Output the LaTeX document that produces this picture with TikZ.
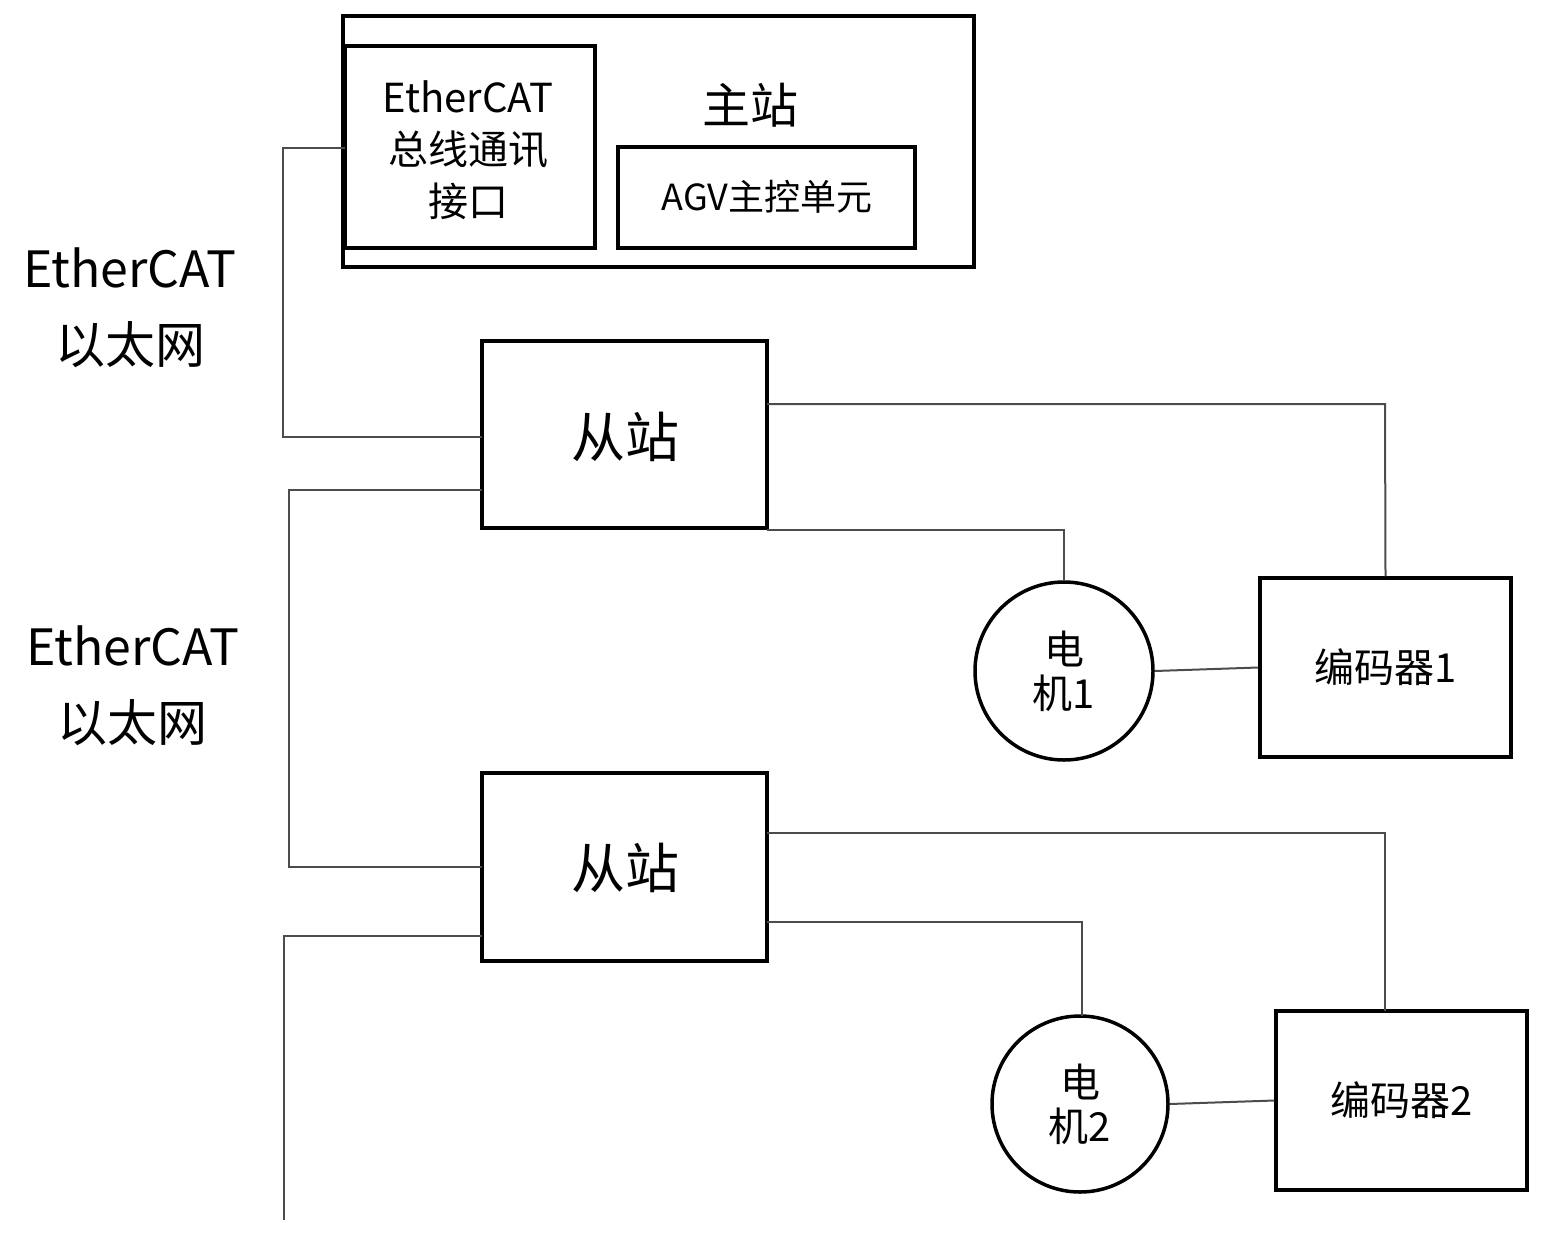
\documentclass[tikz,border=0pt]{standalone}
\usepackage{fontspec}
\setmainfont{Noto Sans CJK SC}
\begin{document}
\begin{tikzpicture}[x=1pt,y=-1pt,
 box/.style={draw,line width=3.5pt},
 wire/.style={draw=black!70,line width=2pt},
 txt/.style={align=center,inner sep=0pt}]
\useasboundingbox (0,0) rectangle (1544,1237);
\draw[box] (343,16) rectangle (974,267);
\draw[box] (345,46) rectangle (595,248);
\coordinate (ifl) at (345,148);
\node[txt,font=\fontsize{40}{52}\selectfont] (if) at (468,150) {EtherCAT\\总线通讯\\接口};
\node[txt,font=\fontsize{48}{50}\selectfont] (ms) at (750,105) {主站};
\draw[box] (618,147) rectangle (915,248);
\node[txt,font=\fontsize{36}{38}\selectfont] (agv) at (767,197) {AGV主控单元};
\node[txt,font=\fontsize{50}{76}\selectfont] (l1) at (130,308) {EtherCAT\\以太网};
\node[txt,font=\fontsize{50}{76}\selectfont] (l2) at (133,686) {EtherCAT\\以太网};
\draw[box] (482,341) rectangle (767,528);
\node[txt,font=\fontsize{54}{56}\selectfont] (s1) at (625,437) {从站};
\draw[box] (482,773) rectangle (767,961);
\node[txt,font=\fontsize{54}{56}\selectfont] (s2) at (625,868) {从站};
\node[draw,circle,line width=3.5pt,minimum size=178pt,inner sep=0pt,align=center,font=\fontsize{40}{44}\selectfont] (m1) at (1064,671) {电\\机1};
\node[draw,circle,line width=3.5pt,minimum size=176pt,inner sep=0pt,align=center,font=\fontsize{40}{44}\selectfont] (m2) at (1080,1104) {电\\机2};
\node[draw,line width=3.5pt,minimum width=251pt,minimum height=179pt,font=\fontsize{40}{44}\selectfont] (e1) at (1385.5,667.5) {编码器1};
\node[draw,line width=3.5pt,minimum width=251pt,minimum height=179pt,font=\fontsize{40}{44}\selectfont] (e2) at (1401.5,1100.5) {编码器2};
\coordinate (end) at (284,1220);
\draw[wire] (ifl) -- (283,148) -- (283,437) -- (482,437);
\draw[wire] (482,490) -- (289,490) -- (289,867) -- (482,867);
\draw[wire] (482,936) -- (284,936) -- (end);
\draw[wire] (767,404) -- (1385,404) -- (e1.north);
\draw[wire] (767,530) -- (1064,530) -- (m1.north);
\draw[wire] (m1.east) -- (e1.west);
\draw[wire] (767,833) -- (1385,833) -- (1385,1011);
\draw[wire] (767,922) -- (1082,922) -- (1082,1016);
\draw[wire] (m2.east) -- (e2.west);
\end{tikzpicture}
\end{document}
